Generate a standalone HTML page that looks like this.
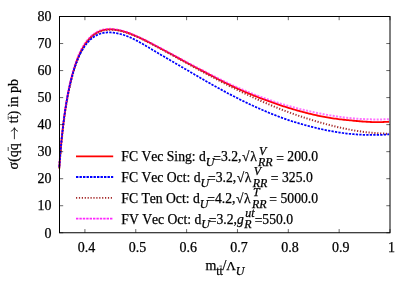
<!DOCTYPE html>
<html><head><meta charset="utf-8"><style>
html,body{margin:0;padding:0;background:#fff;}
svg{display:block;will-change:transform;font-family:"Liberation Serif",serif;font-size:14px;fill:#000;}
text{stroke:#000;stroke-width:0.25px;}
.i{font-style:italic}
</style></head><body>
<svg width="415" height="291" viewBox="0 0 415 291">
<rect width="415" height="291" fill="#fff"/>
<g fill="none" stroke-linejoin="round">
<path d="M59.33 167.51 L59.33 167.44 L59.34 167.26 L59.36 166.96 L59.39 166.53 L59.43 166.00 L59.47 165.34 L59.52 164.58 L59.58 163.72 L59.65 162.75 L59.72 161.69 L59.81 160.55 L59.90 159.31 L60.00 158.00 L60.10 156.62 L60.22 155.16 L60.34 153.65 L60.47 152.07 L60.61 150.45 L60.76 148.77 L60.91 147.06 L61.08 145.30 L61.25 143.51 L61.43 141.68 L61.61 139.83 L61.81 137.95 L62.01 136.05 L62.22 134.14 L62.43 132.21 L62.64 130.26 L62.86 128.31 L63.09 126.35 L63.32 124.38 L63.56 122.41 L63.81 120.44 L64.06 118.46 L64.32 116.50 L64.59 114.53 L64.87 112.57 L65.16 110.62 L65.45 108.68 L65.75 106.74 L66.06 104.82 L66.37 102.91 L66.69 101.01 L67.02 99.13 L67.36 97.26 L67.70 95.41 L68.06 93.58 L68.41 91.77 L68.78 89.97 L69.15 88.20 L69.54 86.44 L69.92 84.71 L70.32 83.00 L70.72 81.31 L71.12 79.64 L71.53 78.00 L71.94 76.38 L72.36 74.79 L72.79 73.22 L73.23 71.68 L73.67 70.16 L74.13 68.67 L74.58 67.20 L75.05 65.77 L75.52 64.35 L76.00 62.97 L76.49 61.62 L76.99 60.29 L77.49 58.99 L78.00 57.72 L78.51 56.48 L79.04 55.26 L79.57 54.08 L80.10 52.92 L80.65 51.79 L81.20 50.69 L81.76 49.62 L82.33 48.58 L82.90 47.57 L83.48 46.58 L84.07 45.63 L84.67 44.70 L85.27 43.81 L85.88 42.94 L86.50 42.10 L87.12 41.29 L87.76 40.51 L88.39 39.75 L89.04 39.03 L89.69 38.33 L90.35 37.66 L91.02 37.02 L91.70 36.40 L92.38 35.82 L93.07 35.26 L93.77 34.72 L94.47 34.22 L95.18 33.74 L95.89 33.29 L96.59 32.86 L97.30 32.46 L98.02 32.08 L98.75 31.74 L99.48 31.41 L100.22 31.11 L100.97 30.84 L101.72 30.59 L102.48 30.36 L103.25 30.16 L104.02 29.98 L104.80 29.82 L105.59 29.69 L106.39 29.58 L107.19 29.49 L108.00 29.42 L108.82 29.38 L109.64 29.36 L110.47 29.35 L111.84 29.40 L113.24 29.49 L114.65 29.63 L116.05 29.81 L117.46 30.04 L118.87 30.31 L120.28 30.62 L121.68 30.96 L123.09 31.34 L124.50 31.75 L125.90 32.19 L127.31 32.66 L128.72 33.16 L130.13 33.68 L131.53 34.23 L132.94 34.79 L134.35 35.38 L135.76 35.98 L137.16 36.61 L138.57 37.25 L139.98 37.90 L141.39 38.56 L142.79 39.24 L144.20 39.93 L145.61 40.63 L147.02 41.34 L148.42 42.06 L149.83 42.78 L151.24 43.51 L152.65 44.24 L154.05 44.98 L155.46 45.72 L156.87 46.47 L158.28 47.21 L159.68 47.96 L161.09 48.71 L162.50 49.47 L163.91 50.22 L165.31 50.98 L166.72 51.74 L168.13 52.50 L169.53 53.27 L170.94 54.03 L172.35 54.80 L173.76 55.57 L175.16 56.33 L176.57 57.10 L177.98 57.86 L179.39 58.63 L180.79 59.39 L182.20 60.16 L183.61 60.92 L185.02 61.68 L186.42 62.44 L187.83 63.20 L189.24 63.96 L190.65 64.71 L192.05 65.46 L193.46 66.21 L194.87 66.96 L196.28 67.70 L197.68 68.45 L199.09 69.19 L200.50 69.92 L201.91 70.66 L203.31 71.40 L204.72 72.14 L206.13 72.88 L207.54 73.61 L208.94 74.35 L210.35 75.09 L211.76 75.82 L213.16 76.56 L214.57 77.29 L215.98 78.02 L217.39 78.74 L218.79 79.47 L220.20 80.18 L221.61 80.90 L223.02 81.61 L224.42 82.31 L225.83 83.01 L227.24 83.71 L228.65 84.40 L230.05 85.08 L231.46 85.76 L232.87 86.43 L234.28 87.09 L235.68 87.74 L237.09 88.39 L238.50 89.02 L239.91 89.65 L241.31 90.27 L242.72 90.89 L244.13 91.50 L245.54 92.10 L246.94 92.69 L248.35 93.29 L249.76 93.87 L251.17 94.45 L252.57 95.02 L253.98 95.59 L255.39 96.15 L256.79 96.70 L258.20 97.25 L259.61 97.80 L261.02 98.34 L262.42 98.87 L263.83 99.40 L265.24 99.92 L266.65 100.44 L268.05 100.95 L269.46 101.46 L270.87 101.96 L272.28 102.46 L273.68 102.95 L275.09 103.44 L276.50 103.92 L277.91 104.40 L279.31 104.88 L280.72 105.34 L282.13 105.81 L283.54 106.27 L284.94 106.72 L286.35 107.17 L287.76 107.61 L289.17 108.05 L290.57 108.48 L291.98 108.90 L293.39 109.32 L294.80 109.74 L296.20 110.15 L297.61 110.55 L299.02 110.94 L300.43 111.33 L301.83 111.72 L303.24 112.09 L304.65 112.47 L306.05 112.83 L307.46 113.19 L308.87 113.54 L310.28 113.88 L311.68 114.22 L313.09 114.55 L314.50 114.88 L315.91 115.19 L317.31 115.50 L318.72 115.80 L320.13 116.10 L321.54 116.39 L322.94 116.66 L324.35 116.93 L325.76 117.18 L327.17 117.43 L328.57 117.67 L329.98 117.90 L331.39 118.12 L332.80 118.33 L334.20 118.53 L335.61 118.73 L337.02 118.92 L338.43 119.10 L339.83 119.27 L341.24 119.43 L342.65 119.59 L344.06 119.75 L345.46 119.89 L346.87 120.04 L348.28 120.18 L349.68 120.32 L351.09 120.46 L352.50 120.60 L353.91 120.74 L355.31 120.87 L356.72 121.00 L358.13 121.12 L359.54 121.25 L360.94 121.36 L362.35 121.48 L363.76 121.58 L365.17 121.68 L366.57 121.77 L367.98 121.86 L369.39 121.93 L370.80 121.99 L372.20 122.04 L373.61 122.08 L375.02 122.11 L376.43 122.13 L377.83 122.13 L379.24 122.12 L380.65 122.09 L382.06 122.06 L383.46 122.02 L384.87 121.96 L386.28 121.90 L387.69 121.82 L389.09 121.73" stroke="#ff0000" stroke-width="1.8"/>
<path d="M59.33 168.38 L59.33 168.32 L59.34 168.14 L59.36 167.84 L59.39 167.42 L59.43 166.89 L59.47 166.24 L59.52 165.49 L59.58 164.64 L59.65 163.68 L59.72 162.63 L59.81 161.50 L59.90 160.28 L60.00 158.98 L60.10 157.61 L60.22 156.17 L60.34 154.67 L60.47 153.11 L60.61 151.50 L60.76 149.84 L60.91 148.13 L61.08 146.39 L61.25 144.61 L61.43 142.80 L61.61 140.96 L61.81 139.10 L62.01 137.22 L62.22 135.31 L62.43 133.39 L62.64 131.46 L62.86 129.52 L63.09 127.56 L63.32 125.61 L63.56 123.64 L63.81 121.68 L64.06 119.72 L64.32 117.75 L64.59 115.79 L64.87 113.84 L65.16 111.89 L65.45 109.95 L65.75 108.02 L66.06 106.10 L66.37 104.19 L66.69 102.29 L67.02 100.41 L67.36 98.54 L67.70 96.69 L68.06 94.85 L68.41 93.03 L68.78 91.23 L69.15 89.45 L69.54 87.69 L69.92 85.95 L70.32 84.23 L70.72 82.53 L71.12 80.86 L71.53 79.21 L71.94 77.58 L72.36 75.97 L72.79 74.39 L73.23 72.84 L73.67 71.31 L74.13 69.80 L74.58 68.32 L75.05 66.87 L75.52 65.45 L76.00 64.05 L76.49 62.68 L76.99 61.33 L77.49 60.02 L78.00 58.73 L78.51 57.47 L79.04 56.24 L79.57 55.04 L80.10 53.86 L80.65 52.72 L81.20 51.60 L81.76 50.51 L82.33 49.46 L82.90 48.43 L83.48 47.42 L84.07 46.45 L84.67 45.51 L85.27 44.60 L85.88 43.71 L86.50 42.85 L87.12 42.03 L87.76 41.23 L88.39 40.46 L89.04 39.71 L89.69 39.00 L90.35 38.32 L91.02 37.66 L91.70 37.03 L92.38 36.43 L93.07 35.85 L93.77 35.31 L94.47 34.79 L95.18 34.29 L95.89 33.83 L96.59 33.39 L97.30 32.97 L98.02 32.59 L98.75 32.23 L99.48 31.89 L100.22 31.58 L100.97 31.29 L101.72 31.03 L102.48 30.80 L103.25 30.58 L104.02 30.40 L104.80 30.23 L105.59 30.09 L106.39 29.97 L107.19 29.87 L108.00 29.80 L108.82 29.75 L109.64 29.72 L110.47 29.71 L111.84 29.74 L113.24 29.82 L114.65 29.96 L116.05 30.14 L117.46 30.36 L118.87 30.62 L120.28 30.92 L121.68 31.26 L123.09 31.64 L124.50 32.04 L125.90 32.48 L127.31 32.95 L128.72 33.44 L130.13 33.96 L131.53 34.50 L132.94 35.07 L134.35 35.65 L135.76 36.26 L137.16 36.88 L138.57 37.52 L139.98 38.17 L141.39 38.84 L142.79 39.51 L144.20 40.20 L145.61 40.91 L147.02 41.62 L148.42 42.33 L149.83 43.06 L151.24 43.79 L152.65 44.53 L154.05 45.28 L155.46 46.03 L156.87 46.78 L158.28 47.53 L159.68 48.29 L161.09 49.05 L162.50 49.82 L163.91 50.58 L165.31 51.35 L166.72 52.12 L168.13 52.90 L169.53 53.67 L170.94 54.44 L172.35 55.22 L173.76 56.00 L175.16 56.77 L176.57 57.55 L177.98 58.33 L179.39 59.11 L180.79 59.88 L182.20 60.66 L183.61 61.44 L185.02 62.21 L186.42 62.99 L187.83 63.76 L189.24 64.54 L190.65 65.31 L192.05 66.08 L193.46 66.85 L194.87 67.61 L196.28 68.38 L197.68 69.14 L199.09 69.91 L200.50 70.67 L201.91 71.43 L203.31 72.19 L204.72 72.95 L206.13 73.71 L207.54 74.47 L208.94 75.23 L210.35 75.98 L211.76 76.74 L213.16 77.49 L214.57 78.24 L215.98 78.99 L217.39 79.73 L218.79 80.48 L220.20 81.22 L221.61 81.95 L223.02 82.69 L224.42 83.42 L225.83 84.15 L227.24 84.87 L228.65 85.59 L230.05 86.31 L231.46 87.02 L232.87 87.73 L234.28 88.43 L235.68 89.13 L237.09 89.82 L238.50 90.51 L239.91 91.19 L241.31 91.87 L242.72 92.55 L244.13 93.22 L245.54 93.89 L246.94 94.55 L248.35 95.21 L249.76 95.87 L251.17 96.52 L252.57 97.17 L253.98 97.81 L255.39 98.45 L256.79 99.09 L258.20 99.72 L259.61 100.35 L261.02 100.97 L262.42 101.59 L263.83 102.21 L265.24 102.82 L266.65 103.42 L268.05 104.02 L269.46 104.62 L270.87 105.21 L272.28 105.80 L273.68 106.38 L275.09 106.96 L276.50 107.53 L277.91 108.09 L279.31 108.66 L280.72 109.21 L282.13 109.76 L283.54 110.30 L284.94 110.84 L286.35 111.37 L287.76 111.89 L289.17 112.41 L290.57 112.92 L291.98 113.43 L293.39 113.93 L294.80 114.42 L296.20 114.91 L297.61 115.40 L299.02 115.87 L300.43 116.35 L301.83 116.82 L303.24 117.28 L304.65 117.74 L306.05 118.19 L307.46 118.64 L308.87 119.08 L310.28 119.52 L311.68 119.95 L313.09 120.38 L314.50 120.81 L315.91 121.23 L317.31 121.65 L318.72 122.07 L320.13 122.48 L321.54 122.88 L322.94 123.28 L324.35 123.67 L325.76 124.06 L327.17 124.44 L328.57 124.81 L329.98 125.18 L331.39 125.54 L332.80 125.90 L334.20 126.25 L335.61 126.59 L337.02 126.92 L338.43 127.25 L339.83 127.57 L341.24 127.89 L342.65 128.20 L344.06 128.50 L345.46 128.79 L346.87 129.07 L348.28 129.35 L349.68 129.62 L351.09 129.89 L352.50 130.14 L353.91 130.39 L355.31 130.63 L356.72 130.87 L358.13 131.09 L359.54 131.31 L360.94 131.52 L362.35 131.72 L363.76 131.91 L365.17 132.09 L366.57 132.26 L367.98 132.42 L369.39 132.57 L370.80 132.71 L372.20 132.85 L373.61 132.97 L375.02 133.08 L376.43 133.19 L377.83 133.28 L379.24 133.36 L380.65 133.44 L382.06 133.50 L383.46 133.56 L384.87 133.60 L386.28 133.64 L387.69 133.67 L389.09 133.68" stroke="#a52a2a" stroke-width="2" stroke-dasharray="1.2 1.7"/>
<path d="M59.33 166.50 L59.33 166.44 L59.34 166.25 L59.36 165.94 L59.39 165.51 L59.43 164.97 L59.47 164.31 L59.52 163.54 L59.58 162.66 L59.65 161.68 L59.72 160.61 L59.81 159.45 L59.90 158.20 L60.00 156.87 L60.10 155.47 L60.22 154.00 L60.34 152.47 L60.47 150.88 L60.61 149.23 L60.76 147.54 L60.91 145.81 L61.08 144.03 L61.25 142.22 L61.43 140.38 L61.61 138.51 L61.81 136.61 L62.01 134.70 L62.22 132.77 L62.43 130.82 L62.64 128.86 L62.86 126.89 L63.09 124.92 L63.32 122.94 L63.56 120.95 L63.81 118.97 L64.06 116.99 L64.32 115.01 L64.59 113.04 L64.87 111.07 L65.16 109.11 L65.45 107.16 L65.75 105.22 L66.06 103.29 L66.37 101.38 L66.69 99.48 L67.02 97.60 L67.36 95.73 L67.70 93.88 L68.06 92.05 L68.41 90.24 L68.78 88.45 L69.15 86.67 L69.54 84.92 L69.92 83.20 L70.32 81.49 L70.72 79.81 L71.12 78.15 L71.53 76.52 L71.94 74.91 L72.36 73.33 L72.79 71.77 L73.23 70.24 L73.67 68.73 L74.13 67.26 L74.58 65.81 L75.05 64.38 L75.52 62.99 L76.00 61.62 L76.49 60.28 L76.99 58.97 L77.49 57.69 L78.00 56.43 L78.51 55.21 L79.04 54.01 L79.57 52.84 L80.10 51.71 L80.65 50.60 L81.20 49.52 L81.76 48.47 L82.33 47.44 L82.90 46.45 L83.48 45.49 L84.07 44.55 L84.67 43.65 L85.27 42.77 L85.88 41.92 L86.50 41.10 L87.12 40.31 L87.76 39.55 L88.39 38.81 L89.04 38.11 L89.69 37.43 L90.35 36.78 L91.02 36.15 L91.70 35.56 L92.38 34.99 L93.07 34.45 L93.77 33.93 L94.47 33.45 L95.18 32.98 L95.89 32.55 L96.59 32.14 L97.30 31.75 L98.02 31.40 L98.75 31.06 L99.48 30.75 L100.22 30.47 L100.97 30.21 L101.72 29.97 L102.48 29.76 L103.25 29.57 L104.02 29.40 L104.80 29.26 L105.59 29.14 L106.39 29.04 L107.19 28.96 L108.00 28.91 L108.82 28.87 L109.64 28.86 L110.47 28.86 L111.84 28.92 L113.24 29.02 L114.65 29.18 L116.05 29.37 L117.46 29.61 L118.87 29.89 L120.28 30.20 L121.68 30.55 L123.09 30.93 L124.50 31.35 L125.90 31.79 L127.31 32.27 L128.72 32.77 L130.13 33.29 L131.53 33.84 L132.94 34.40 L134.35 34.99 L135.76 35.60 L137.16 36.22 L138.57 36.86 L139.98 37.51 L141.39 38.17 L142.79 38.85 L144.20 39.53 L145.61 40.23 L147.02 40.93 L148.42 41.64 L149.83 42.36 L151.24 43.09 L152.65 43.82 L154.05 44.55 L155.46 45.29 L156.87 46.03 L158.28 46.77 L159.68 47.52 L161.09 48.26 L162.50 49.01 L163.91 49.76 L165.31 50.51 L166.72 51.27 L168.13 52.02 L169.53 52.78 L170.94 53.54 L172.35 54.30 L173.76 55.06 L175.16 55.82 L176.57 56.58 L177.98 57.34 L179.39 58.10 L180.79 58.85 L182.20 59.61 L183.61 60.37 L185.02 61.12 L186.42 61.87 L187.83 62.62 L189.24 63.37 L190.65 64.12 L192.05 64.86 L193.46 65.60 L194.87 66.34 L196.28 67.08 L197.68 67.81 L199.09 68.55 L200.50 69.27 L201.91 70.00 L203.31 70.73 L204.72 71.45 L206.13 72.18 L207.54 72.90 L208.94 73.62 L210.35 74.34 L211.76 75.06 L213.16 75.77 L214.57 76.48 L215.98 77.19 L217.39 77.90 L218.79 78.60 L220.20 79.29 L221.61 79.99 L223.02 80.67 L224.42 81.36 L225.83 82.04 L227.24 82.71 L228.65 83.38 L230.05 84.04 L231.46 84.69 L232.87 85.34 L234.28 85.98 L235.68 86.62 L237.09 87.25 L238.50 87.87 L239.91 88.48 L241.31 89.09 L242.72 89.69 L244.13 90.28 L245.54 90.87 L246.94 91.45 L248.35 92.03 L249.76 92.60 L251.17 93.16 L252.57 93.72 L253.98 94.27 L255.39 94.82 L256.79 95.36 L258.20 95.89 L259.61 96.42 L261.02 96.94 L262.42 97.46 L263.83 97.97 L265.24 98.48 L266.65 98.98 L268.05 99.47 L269.46 99.96 L270.87 100.44 L272.28 100.92 L273.68 101.39 L275.09 101.85 L276.50 102.32 L277.91 102.77 L279.31 103.22 L280.72 103.66 L282.13 104.10 L283.54 104.53 L284.94 104.95 L286.35 105.37 L287.76 105.78 L289.17 106.18 L290.57 106.57 L291.98 106.96 L293.39 107.34 L294.80 107.72 L296.20 108.09 L297.61 108.45 L299.02 108.81 L300.43 109.16 L301.83 109.50 L303.24 109.84 L304.65 110.18 L306.05 110.51 L307.46 110.83 L308.87 111.15 L310.28 111.47 L311.68 111.78 L313.09 112.08 L314.50 112.38 L315.91 112.68 L317.31 112.97 L318.72 113.26 L320.13 113.55 L321.54 113.83 L322.94 114.10 L324.35 114.37 L325.76 114.63 L327.17 114.88 L328.57 115.13 L329.98 115.37 L331.39 115.61 L332.80 115.84 L334.20 116.06 L335.61 116.27 L337.02 116.48 L338.43 116.68 L339.83 116.88 L341.24 117.07 L342.65 117.25 L344.06 117.42 L345.46 117.59 L346.87 117.75 L348.28 117.90 L349.68 118.05 L351.09 118.19 L352.50 118.32 L353.91 118.45 L355.31 118.56 L356.72 118.67 L358.13 118.77 L359.54 118.87 L360.94 118.96 L362.35 119.04 L363.76 119.11 L365.17 119.18 L366.57 119.24 L367.98 119.29 L369.39 119.33 L370.80 119.37 L372.20 119.40 L373.61 119.42 L375.02 119.43 L376.43 119.44 L377.83 119.44 L379.24 119.43 L380.65 119.41 L382.06 119.39 L383.46 119.35 L384.87 119.31 L386.28 119.26 L387.69 119.21 L389.09 119.14" stroke="#ff00ff" stroke-width="2" stroke-dasharray="2 1.4" stroke-opacity="0.55"/>
<path d="M59.33 167.06 L59.33 167.00 L59.34 166.82 L59.36 166.51 L59.39 166.09 L59.43 165.55 L59.47 164.89 L59.52 164.13 L59.58 163.26 L59.65 162.30 L59.72 161.23 L59.81 160.08 L59.90 158.85 L60.00 157.53 L60.10 156.15 L60.22 154.69 L60.34 153.18 L60.47 151.60 L60.61 149.98 L60.76 148.30 L60.91 146.59 L61.08 144.83 L61.25 143.04 L61.43 141.22 L61.61 139.37 L61.81 137.50 L62.01 135.61 L62.22 133.70 L62.43 131.78 L62.64 129.84 L62.86 127.90 L63.09 125.95 L63.32 123.99 L63.56 122.04 L63.81 120.08 L64.06 118.12 L64.32 116.17 L64.59 114.23 L64.87 112.29 L65.16 110.36 L65.45 108.44 L65.75 106.53 L66.06 104.63 L66.37 102.75 L66.69 100.88 L67.02 99.02 L67.36 97.19 L67.70 95.37 L68.06 93.57 L68.41 91.79 L68.78 90.02 L69.15 88.28 L69.54 86.57 L69.92 84.87 L70.32 83.20 L70.72 81.55 L71.12 79.92 L71.53 78.32 L71.94 76.74 L72.36 75.19 L72.79 73.67 L73.23 72.17 L73.67 70.70 L74.13 69.25 L74.58 67.83 L75.05 66.44 L75.52 65.08 L76.00 63.74 L76.49 62.44 L76.99 61.16 L77.49 59.91 L78.00 58.69 L78.51 57.49 L79.04 56.33 L79.57 55.19 L80.10 54.08 L80.65 53.01 L81.20 51.96 L81.76 50.94 L82.33 49.95 L82.90 48.98 L83.48 48.05 L84.07 47.14 L84.67 46.27 L85.27 45.42 L85.88 44.60 L86.50 43.81 L87.12 43.05 L87.76 42.32 L88.39 41.61 L89.04 40.93 L89.69 40.28 L90.35 39.66 L91.02 39.07 L91.70 38.50 L92.38 37.96 L93.07 37.45 L93.77 36.96 L94.47 36.50 L95.18 36.06 L95.89 35.66 L96.59 35.27 L97.30 34.92 L98.02 34.58 L98.75 34.28 L99.48 33.99 L100.22 33.74 L100.97 33.50 L101.72 33.29 L102.48 33.11 L103.25 32.95 L104.02 32.81 L104.80 32.69 L105.59 32.60 L106.39 32.52 L107.19 32.47 L108.00 32.45 L108.82 32.44 L109.64 32.45 L110.47 32.49 L111.84 32.58 L113.24 32.72 L114.65 32.89 L116.05 33.11 L117.46 33.37 L118.87 33.66 L120.28 34.00 L121.68 34.37 L123.09 34.78 L124.50 35.23 L125.90 35.72 L127.31 36.25 L128.72 36.82 L130.13 37.42 L131.53 38.05 L132.94 38.72 L134.35 39.41 L135.76 40.13 L137.16 40.88 L138.57 41.64 L139.98 42.42 L141.39 43.22 L142.79 44.03 L144.20 44.85 L145.61 45.68 L147.02 46.52 L148.42 47.37 L149.83 48.22 L151.24 49.07 L152.65 49.92 L154.05 50.77 L155.46 51.62 L156.87 52.46 L158.28 53.29 L159.68 54.12 L161.09 54.93 L162.50 55.75 L163.91 56.57 L165.31 57.39 L166.72 58.21 L168.13 59.03 L169.53 59.85 L170.94 60.68 L172.35 61.50 L173.76 62.32 L175.16 63.14 L176.57 63.97 L177.98 64.79 L179.39 65.61 L180.79 66.43 L182.20 67.25 L183.61 68.08 L185.02 68.90 L186.42 69.72 L187.83 70.54 L189.24 71.36 L190.65 72.18 L192.05 73.00 L193.46 73.82 L194.87 74.64 L196.28 75.46 L197.68 76.29 L199.09 77.11 L200.50 77.93 L201.91 78.75 L203.31 79.56 L204.72 80.38 L206.13 81.19 L207.54 81.99 L208.94 82.80 L210.35 83.60 L211.76 84.39 L213.16 85.19 L214.57 85.98 L215.98 86.76 L217.39 87.54 L218.79 88.32 L220.20 89.10 L221.61 89.87 L223.02 90.63 L224.42 91.39 L225.83 92.15 L227.24 92.90 L228.65 93.65 L230.05 94.39 L231.46 95.13 L232.87 95.86 L234.28 96.59 L235.68 97.32 L237.09 98.04 L238.50 98.75 L239.91 99.46 L241.31 100.16 L242.72 100.86 L244.13 101.55 L245.54 102.24 L246.94 102.91 L248.35 103.59 L249.76 104.26 L251.17 104.92 L252.57 105.57 L253.98 106.22 L255.39 106.86 L256.79 107.50 L258.20 108.13 L259.61 108.75 L261.02 109.37 L262.42 109.98 L263.83 110.59 L265.24 111.18 L266.65 111.78 L268.05 112.36 L269.46 112.94 L270.87 113.51 L272.28 114.08 L273.68 114.64 L275.09 115.19 L276.50 115.74 L277.91 116.28 L279.31 116.81 L280.72 117.33 L282.13 117.85 L283.54 118.36 L284.94 118.86 L286.35 119.35 L287.76 119.83 L289.17 120.30 L290.57 120.76 L291.98 121.22 L293.39 121.66 L294.80 122.10 L296.20 122.53 L297.61 122.96 L299.02 123.37 L300.43 123.78 L301.83 124.18 L303.24 124.58 L304.65 124.97 L306.05 125.35 L307.46 125.73 L308.87 126.10 L310.28 126.46 L311.68 126.82 L313.09 127.17 L314.50 127.52 L315.91 127.86 L317.31 128.20 L318.72 128.53 L320.13 128.86 L321.54 129.18 L322.94 129.50 L324.35 129.80 L325.76 130.10 L327.17 130.39 L328.57 130.67 L329.98 130.94 L331.39 131.20 L332.80 131.46 L334.20 131.71 L335.61 131.94 L337.02 132.17 L338.43 132.39 L339.83 132.61 L341.24 132.81 L342.65 133.00 L344.06 133.19 L345.46 133.36 L346.87 133.53 L348.28 133.69 L349.68 133.84 L351.09 133.98 L352.50 134.11 L353.91 134.23 L355.31 134.34 L356.72 134.44 L358.13 134.53 L359.54 134.61 L360.94 134.69 L362.35 134.75 L363.76 134.81 L365.17 134.86 L366.57 134.90 L367.98 134.94 L369.39 134.96 L370.80 134.98 L372.20 134.99 L373.61 134.99 L375.02 134.98 L376.43 134.96 L377.83 134.93 L379.24 134.89 L380.65 134.84 L382.06 134.78 L383.46 134.71 L384.87 134.63 L386.28 134.54 L387.69 134.44 L389.09 134.33" stroke="#0000ff" stroke-width="1.75" stroke-dasharray="2.3 1.2"/>
</g>
<g stroke="#000" stroke-width="1" fill="none">
<rect x="59.5" y="16.5" width="330.5" height="216.25"/>
<g stroke-width="0.6"><path d="M59.5 232.75h3.7M390.0 232.75h-3.7"/><path d="M59.5 205.71875h3.7M390.0 205.71875h-3.7"/><path d="M59.5 178.6875h3.7M390.0 178.6875h-3.7"/><path d="M59.5 151.65625h3.7M390.0 151.65625h-3.7"/><path d="M59.5 124.625h3.7M390.0 124.625h-3.7"/><path d="M59.5 97.59375h3.7M390.0 97.59375h-3.7"/><path d="M59.5 70.5625h3.7M390.0 70.5625h-3.7"/><path d="M59.5 43.53125h3.7M390.0 43.53125h-3.7"/><path d="M59.5 16.5h3.7M390.0 16.5h-3.7"/><path d="M84.92 232.75v-3.7M84.92 16.5v3.7"/><path d="M135.77 232.75v-3.7M135.77 16.5v3.7"/><path d="M186.62 232.75v-3.7M186.62 16.5v3.7"/><path d="M237.46 232.75v-3.7M237.46 16.5v3.7"/><path d="M288.31 232.75v-3.7M288.31 16.5v3.7"/><path d="M339.15 232.75v-3.7M339.15 16.5v3.7"/><path d="M390.00 232.75v-3.7M390.00 16.5v3.7"/></g>
</g>
<g><text x="51.6" y="237.50" text-anchor="end">0</text><text x="51.6" y="210.47" text-anchor="end">10</text><text x="51.6" y="183.44" text-anchor="end">20</text><text x="51.6" y="156.41" text-anchor="end">30</text><text x="51.6" y="129.38" text-anchor="end">40</text><text x="51.6" y="102.34" text-anchor="end">50</text><text x="51.6" y="75.31" text-anchor="end">60</text><text x="51.6" y="48.28" text-anchor="end">70</text><text x="51.6" y="21.25" text-anchor="end">80</text><text x="86.5" y="252.2" text-anchor="middle">0.4</text><text x="137.4" y="252.2" text-anchor="middle">0.5</text><text x="188.2" y="252.2" text-anchor="middle">0.6</text><text x="239.1" y="252.2" text-anchor="middle">0.7</text><text x="289.9" y="252.2" text-anchor="middle">0.8</text><text x="340.8" y="252.2" text-anchor="middle">0.9</text><text x="391.6" y="252.2" text-anchor="middle">1</text></g>
<g fill="none" stroke-width="1.85">
<path d="M76 156.35H113.2" stroke="#ff0000" stroke-width="1.75"/>
<path d="M76 177.0H113.2" stroke="#0000ff" stroke-dasharray="2.4 1.1"/>
<path d="M76 197.9H113.2" stroke="#a52a2a" stroke-dasharray="1.2 1.7"/>
<path d="M76 218.6H113.2" stroke="#ff00ff" stroke-dasharray="2.4 1" stroke-opacity="0.85"/>
</g>
<text x="121.3" y="161.4" style="font-kerning:none;font-size:13.65px">FC Vec Sing: d<tspan class="i" font-size="12" dy="4.6">U</tspan><tspan dx="-1.2" dy="-3.3">=</tspan><tspan dy="-1.3">3.2,</tspan><tspan dx="0.6">√</tspan><tspan dx="0.6">λ</tspan><tspan class="i" font-size="12" dx="1.2" dy="4.6">RR</tspan><tspan class="i" font-size="12" dx="-13.66" dy="-11.3">V</tspan><tspan dx="9.83" dy="8.0">=</tspan><tspan dx="3.5" dy="-1.3">200.0</tspan></text>
<text x="121.3" y="182.1" style="font-kerning:none;font-size:13.65px">FC Vec Oct: d<tspan class="i" font-size="12" dy="4.6">U</tspan><tspan dx="-1.2" dy="-3.3">=</tspan><tspan dy="-1.3">3.2,</tspan><tspan dx="0.6">√</tspan><tspan dx="0.6">λ</tspan><tspan class="i" font-size="12" dx="1.2" dy="4.6">RR</tspan><tspan class="i" font-size="12" dx="-13.66" dy="-11.3">V</tspan><tspan dx="9.83" dy="8.0">=</tspan><tspan dx="3.5" dy="-1.3">325.0</tspan></text>
<text x="121.3" y="202.9" style="font-kerning:none;font-size:13.65px">FC Ten Oct: d<tspan class="i" font-size="12" dy="4.6">U</tspan><tspan dx="-1.2" dy="-3.3">=</tspan><tspan dy="-1.3">4.2,</tspan><tspan dx="0.6">√</tspan><tspan dx="0.6">λ</tspan><tspan class="i" font-size="12" dx="1.2" dy="4.6">RR</tspan><tspan class="i" font-size="12" dx="-13.66" dy="-11.3">T</tspan><tspan dx="9.72" dy="8.0">=</tspan><tspan dx="3.5" dy="-1.3">5000.0</tspan></text>
<text x="121.3" y="223.6" style="font-kerning:none;font-size:13.65px">FV Vec Oct: d<tspan class="i" font-size="12" dy="4.6">U</tspan><tspan dx="-1.2" dy="-3.3">=</tspan><tspan dy="-1.3">3.2,</tspan><tspan class="i">g</tspan><tspan class="i" font-size="12" dx="0.6" dy="4.6">R</tspan><tspan class="i" font-size="12" dx="-6.33" dy="-11.3">ut</tspan><tspan dx="0.00" dy="8.0">=</tspan><tspan dy="-1.3">550.0</tspan></text>
<text x="205.6" y="270.2">m<tspan font-size="12" dy="4.3" dx="-0.2">tt</tspan><tspan dy="-4.3" dx="-0.5">/</tspan><tspan font-size="13.2">Λ</tspan><tspan class="i" font-size="12" dy="4.3" dx="-0.2">U</tspan></text>
<path d="M219.4 266.1H222" stroke="#000" stroke-width="0.7" fill="none"/>
<text transform="translate(17.9 169.4) rotate(-90)">σ(qq</text>
<text transform="translate(17.9 78.9) rotate(-90)" text-anchor="end">tt) in pb</text>
<g stroke="#000" stroke-width="0.8" fill="none" stroke-linecap="round" transform="translate(0.8 0)">
<path d="M13.6 138.8V127.9M10.4 131.2Q12.8 130.2 13.6 127.8Q14.4 130.2 16.8 131.2"/>
<path d="M7.4 150.6V147.4M7.4 119.2V116.6" stroke-width="0.7"/>
</g>
</svg>
</body></html>
